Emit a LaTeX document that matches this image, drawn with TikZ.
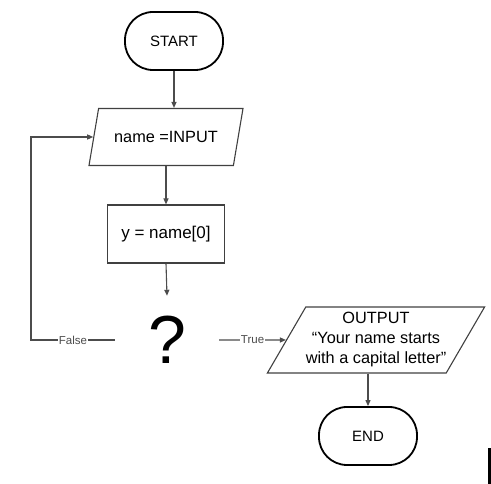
\documentclass[tikz,border=0pt]{standalone}
\usepackage{fontspec}
\setmainfont{Liberation Sans}
\usetikzlibrary{shapes.geometric,arrows.meta}

\begin{document}
\begin{tikzpicture}[x=1pt,y=1pt,
  term/.style={draw,line width=1.8pt,rounded corners=28pt,minimum width=98pt,minimum height=58pt,font=\fontsize{15}{18}\selectfont},
  io/.style={draw=black!75,line width=1.1pt,trapezium,trapezium stretches body=true,inner xsep=0pt,font=\fontsize{16.3}{20}\selectfont,align=center},
  flow/.style={draw=black!70,line width=1.1pt,-{Triangle[length=6pt,width=5pt]}},
  tag/.style={fill=white,inner sep=1pt,text=black!70,font=\fontsize{11.5}{13}\selectfont}]
\useasboundingbox (0,0) rectangle (491,484);
\path
  (174,443) node [term] (s) {START}
  (166,347) node [io,trapezium left angle=62,trapezium right angle=118,minimum width=154pt,minimum height=57pt] (in) {name =INPUT}
  (166,250) node [draw=black!75,line width=1.1pt,minimum width=117pt,minimum height=58pt,font=\fontsize{17}{20}\selectfont] (y) {y = name[0]}
  (167,144) node [minimum width=104pt,minimum height=88pt,font=\fontsize{68}{72}\selectfont] (q) {\raisebox{-13pt}{?}}
  (376,144) node [io,trapezium left angle=58,trapezium right angle=122,minimum width=207pt,minimum height=66pt] (out) {OUTPUT\\``Your name starts\\with a capital letter''}
  (368,48) node [term] (e) {END};
\coordinate (back) at (31,144);
\draw [flow] (s.south) -- (s.south |- in.north);
\draw [flow] (y.north |- in.south) -- (y.north);
\draw [flow] (y.south) -- (q.north);
\draw [flow] (q.west) -- node [tag] {False} (back) |- (in.west);
\draw [flow] (q.east) -- node [tag] {True} (out.west);
\draw [flow] (out.south -| e.north) -- (e.north);
\fill (488,0) rectangle (491,36);
\end{tikzpicture}
\end{document}
